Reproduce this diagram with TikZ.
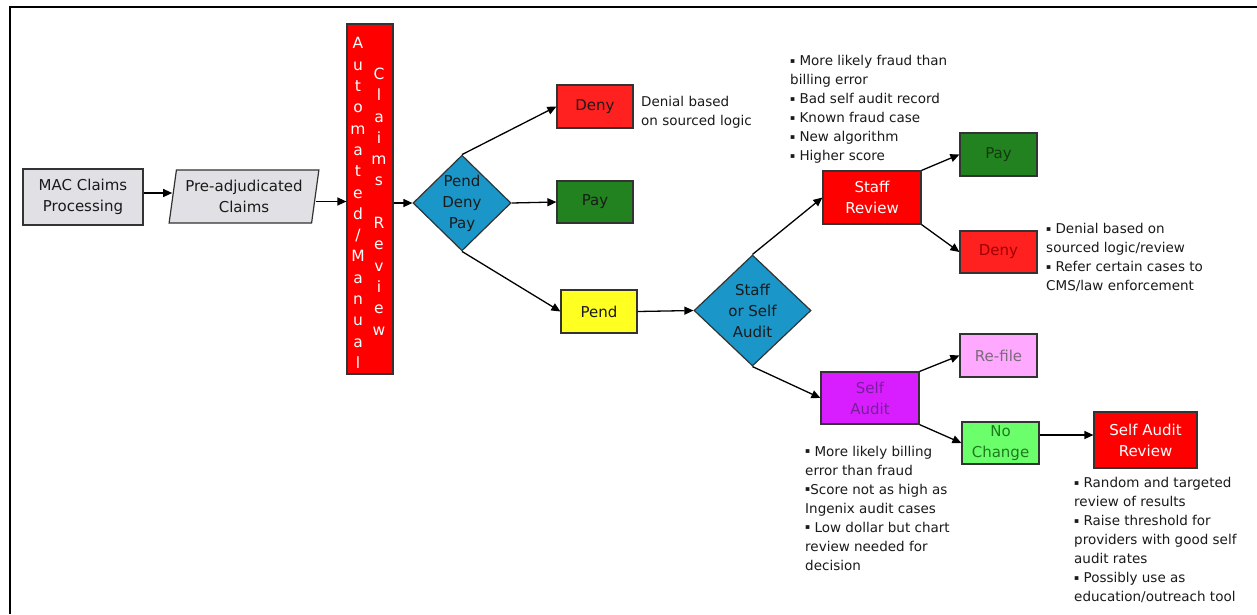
\documentclass[tikz,border=0pt]{standalone}
\usepackage{fontspec}
\setmainfont{DejaVu Sans}
\usetikzlibrary{shapes.geometric,arrows.meta}
\definecolor{grayfill}{HTML}{E1E0E4}
\definecolor{edgecol}{HTML}{333333}
\definecolor{barred}{HTML}{FF0000}
\definecolor{denyred}{HTML}{FF2020}
\definecolor{paygreen}{HTML}{22821F}
\definecolor{pendyellow}{HTML}{FFFF22}
\definecolor{diamblue}{HTML}{1A96C8}
\definecolor{refilepink}{HTML}{FFA8FF}
\definecolor{sapurple}{HTML}{D81EFF}
\definecolor{ncgreen}{HTML}{6CFF6C}
\definecolor{txtcol}{HTML}{1A1A1A}
\definecolor{paytxt}{HTML}{123A12}
\definecolor{denytxt}{HTML}{A00000}
\definecolor{refiletxt}{HTML}{7A6A7A}
\definecolor{satxt}{HTML}{781E9C}
\definecolor{nctxt}{HTML}{1E7A1E}
\newcommand{\bul}{\raisebox{0.35ex}{\fontsize{7.5}{7.5}\selectfont ▪}}
\begin{document}
\begin{tikzpicture}[x=1pt,y=-1pt,
  boxnode/.style={draw=edgecol,line width=1.2pt,inner sep=0pt,align=center,
    font=\fontsize{15}{21}\selectfont,text=txtcol},
  diam/.style={boxnode,diamond,fill=diamblue},
  notes/.style={inner sep=0pt,align=left,anchor=north west,
    font=\fontsize{13.5}{19}\selectfont,text=txtcol},
  barcol/.style={inner sep=0pt,align=center,text=white,
    font=\fontsize{15.5}{21.3}\selectfont},
  conn/.style={line width=1.3pt,-{Triangle[length=9pt,width=8pt]}}
]
\useasboundingbox (0,0) rectangle (1257,614);
\fill[white] (0,0) rectangle (1257,614);
\draw[line width=2pt] (10,614) -- (10,7) -- (1257,7);

\node[boxnode,fill=grayfill,minimum width=120,minimum height=56] (mac) at (83,197) {MAC Claims\\Processing};
\node[boxnode,fill=grayfill,trapezium,trapezium left angle=79,trapezium right angle=101,
  trapezium stretches=true,minimum width=150,minimum height=53] (pre) at (244,196.5) {Pre-adjudicated\\Claims};
\node[boxnode,fill=barred,minimum width=46,minimum height=350] (bar) at (370,199) {};
\node[barcol] (barA) at (358,203) {A\\u\\t\\o\\m\\a\\t\\e\\d\\/\\M\\a\\n\\u\\a\\l};
\node[barcol] (barB) at (379,201.5) {C\\l\\a\\i\\m\\s\\\mbox{}\\R\\e\\v\\i\\e\\w};
\node[diam,minimum width=98,minimum height=94] (dpd) at (462,203) {Pend\\Deny\\Pay};
\node[boxnode,fill=denyred,minimum width=76,minimum height=43] (deny1) at (595,106.5) {Deny};
\node[boxnode,fill=paygreen,minimum width=76,minimum height=42] (pay1) at (595,202) {Pay};
\node[boxnode,fill=pendyellow,minimum width=76,minimum height=43] (pend) at (599,311.5) {Pend};
\node[diam,minimum width=117,minimum height=111] (sd) at (752.5,310.5) {Staff\\or Self\\Audit};
\node[boxnode,fill=barred,text=white,minimum width=98,minimum height=53] (sr) at (872,197.5) {Staff\\Review};
\node[boxnode,fill=paygreen,text=paytxt,minimum width=77,minimum height=43] (pay2) at (998.5,154.5) {Pay};
\node[boxnode,fill=denyred,text=denytxt,minimum width=77,minimum height=42] (deny2) at (998.5,252) {Deny};
\node[boxnode,fill=refilepink,text=refiletxt,minimum width=77,minimum height=43] (refile) at (998.5,355.5) {Re-file};
\node[boxnode,fill=sapurple,text=satxt,minimum width=98,minimum height=52] (sa) at (870,398) {Self\\Audit};
\node[boxnode,fill=ncgreen,text=nctxt,minimum width=77,minimum height=42] (nc) at (1000.5,443) {No\\Change};
\node[boxnode,fill=barred,text=white,minimum width=103,minimum height=56] (sar) at (1145.5,440) {Self Audit\\Review};

\node[notes] (n1) at (641,96) {Denial based\\on sourced logic};
\node[notes] (n2) at (790,55.5) {\bul\ More likely fraud than\\billing error\\\bul\ Bad self audit record\\\bul\ Known fraud case\\\bul\ New algorithm\\\bul\ Higher score};
\node[notes] (n3) at (1046,223.5) {\bul\ Denial based on\\sourced logic/review\\\bul\ Refer certain cases to\\CMS/law enforcement};
\node[notes] (n4) at (805,446) {\bul\ More likely billing\\error than fraud\\\bul Score not as high as\\Ingenix audit cases\\\bul\ Low dollar but chart\\review needed for\\decision};
\node[notes] (n5) at (1074,477.5) {\bul\ Random and targeted\\review of results\\\bul\ Raise threshold for\\providers with good self\\audit rates\\\bul\ Possibly use as\\education/outreach tool};

\draw[conn] ([yshift=4pt]mac.east) -- ([yshift=4pt]mac.east -| pre.west);
\draw[conn] ([yshift=-5pt]pre.east) -- ([yshift=-5pt]pre.east -| bar.west);
\draw[conn] (bar.east |- dpd.west) -- (dpd.west);
\draw[conn] (dpd.north) -- (deny1.west);
\draw[conn] (dpd.east) -- (pay1.west);
\draw[conn] (dpd.south) -- (pend.west);
\draw[conn] (pend.east) -- (sd.west);
\draw[conn] (sd.north) -- (sr.west);
\draw[conn] (sr.north east) -- (pay2.west);
\draw[conn] (sr.south east) -- (deny2.west);
\draw[conn] (sd.south) -- (sa.west);
\draw[conn] (sa.north east) -- (refile.west);
\draw[conn] (sa.south east) -- (nc.west);
\draw[conn] ([yshift=8pt]nc.east) -- ([yshift=8pt]nc.east -| sar.west);
\end{tikzpicture}
\end{document}
